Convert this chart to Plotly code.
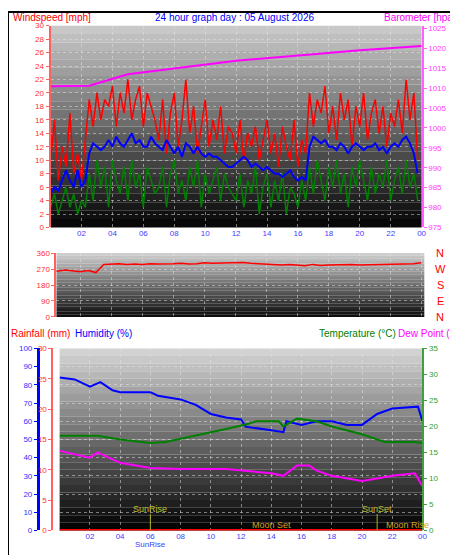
import plotly.graph_objects as go

# ---------------- data ----------------
wind_step_h = 0.25
gust = [10,16,7,12,9,17,8,11,7,13,
        19,15,20,16,19,18,21,15,20,17,22,16,19,21,15,20,18,16,
        13,19,11,17,20,12,16,22,14,18,11,15,19,12,16,13,18,11,15,14,
        11,16,10,14,12,15,10,13,16,11,14,9,15,12,10,16,9,13,11,
        20,15,19,17,21,14,18,13,20,16,19,12,18,15,20,13,17,19,14,18,12,17,15,19,14,22,16,20,10]
avg_wind = [5,6,5.5,7,8.5,7,6,8.5,6,7,
            11,12.5,12,11.5,12,13,12,13.5,12.5,12,13,14,12.5,13,12,12,13.5,12.5,
            12,11.5,13,12,11,12,10.5,12.5,12,11,12,11,10.5,11,10.5,10.5,10,9.5,9,9,
            9.5,10,10.5,10,9,9.5,9,8.5,9,8.5,8,8,7.5,8,8.5,7.5,7,7.5,7,
            12,13.5,13,12.5,13,12,12,11.5,12.5,12,11,12,12.5,12,11.5,12,12,12.5,11.5,12,11,12,12.5,12,13,13.5,12.5,11,8]
speed = [3,5,2,4,6,3,5,2,4,3,
         8,4,10,6,9,3,10,7,5,9,4,10,6,8,3,9,7,5,
         6,9,3,8,10,5,7,4,9,6,10,3,8,5,7,9,4,8,6,5,
         4,8,3,7,5,9,2,6,8,3,7,4,8,2,6,5,3,7,4,
         9,5,10,7,4,9,6,10,5,8,3,9,6,10,7,4,9,5,8,6,10,4,7,9,5,10,6,8,4]
baro_t = [0, 2.5, 5, 8, 12, 17, 20, 24]
baro = [1010.5, 1010.6, 1013.5, 1015, 1016.9, 1018.5, 1019.5, 1020.6]

dir_step_h = 0.5
wind_dir = [262,258,265,260,255,262,250,295,298,300,296,298,295,300,298,297,300,302,298,300,
            305,302,303,305,308,306,302,300,296,295,293,295,292,288,296,290,292,294,296,295,
            293,294,292,296,294,297,295,300,305]

hum_t = [0,1,2,2.7,3.5,4,6,6.5,8,9,10,11,12,12.3,14,14.8,15,16,17,18,19,20,21,22,23.7,24]
humidity = [84,83,79,81.5,77,76,76,74,72,69,64,62,61,57,55,54,60,58,60,60,58,58,64,67,68,60]
temp_t = [0,2.5,4,6,7,9.5,11,12.5,13,14.5,14.8,15.7,17,18,20,21.5,23.5,24]
temperature = [18.2,18.2,17.5,16.8,17,18.5,19.5,20.5,21,21,20,21.5,21,20,18.5,17,17,16.8]
dew_t = [0,2,2.5,4,6,8,11,12,14,14.8,15.7,16.5,17,18,20,21,22,23.5,24]
dew_point = [15.3,14,15,13,12,11.8,11.8,11.5,11,10.5,12.5,12.5,11.5,10.5,9.5,10,10.5,11,8.5]
rain_t = [0, 24]
rainfall = [0, 0]

hour_ticks = [2,4,6,8,10,12,14,16,18,20,22,24]
hour_labels = ["02","04","06","08","10","12","14","16","18","20","22","00"]

wt = [i * wind_step_h for i in range(len(gust))]
dt = [i * dir_step_h for i in range(len(wind_dir))]

FONT = "Liberation Sans"
fig = go.Figure()

fig.add_trace(go.Scatter(x=wt, y=gust, mode="lines", line=dict(color="#ff0000", width=1.5), xaxis="x", yaxis="y"))
fig.add_trace(go.Scatter(x=wt, y=speed, mode="lines", line=dict(color="#008000", width=1.5), xaxis="x", yaxis="y"))
fig.add_trace(go.Scatter(x=wt, y=avg_wind, mode="lines", line=dict(color="#0000ff", width=2), xaxis="x", yaxis="y"))
fig.add_trace(go.Scatter(x=baro_t, y=baro, mode="lines", line=dict(color="#ff00ff", width=2), xaxis="x", yaxis="y2"))
fig.add_trace(go.Scatter(x=dt, y=wind_dir, mode="lines", line=dict(color="#ff0000", width=1.5), xaxis="x2", yaxis="y3"))
fig.add_trace(go.Scatter(x=rain_t, y=rainfall, mode="lines", line=dict(color="#ff0000", width=3), xaxis="x3", yaxis="y5"))
fig.add_trace(go.Scatter(x=hum_t, y=humidity, mode="lines", line=dict(color="#0000ff", width=2), xaxis="x3", yaxis="y4"))
fig.add_trace(go.Scatter(x=temp_t, y=temperature, mode="lines", line=dict(color="#008000", width=2), xaxis="x3", yaxis="y6"))
fig.add_trace(go.Scatter(x=dew_t, y=dew_point, mode="lines", line=dict(color="#ff00ff", width=2), xaxis="x3", yaxis="y6"))

grid = dict(showgrid=True, gridcolor="rgba(230,230,230,0.5)", griddash="dot", gridwidth=1, zeroline=False)
tickf = dict(family=FONT, size=8)

fig.update_layout(
    width=458, height=555, margin=dict(l=0, r=0, t=0, b=0),
    paper_bgcolor="white", plot_bgcolor="rgba(0,0,0,0)", showlegend=False,
    xaxis=dict(domain=[0.094, 0.913], range=[0, 24], tickvals=hour_ticks, ticktext=hour_labels,
               tickfont=dict(tickf, color="#4040ff"), anchor="y", ticks="", **grid),
    yaxis=dict(domain=[0.6054, 0.975], range=[0, 30], dtick=2, tickfont=dict(tickf, color="#ff3030"),
               showline=True, linecolor="#ff6060", linewidth=2, ticks="outside", ticklen=3, tickcolor="#ff6060", **grid),
    yaxis2=dict(overlaying="y", side="right", range=[975, 1025.7], dtick=5, tickfont=dict(tickf, color="#ff40ff"),
                showline=True, linecolor="#ff60ff", linewidth=2, ticks="outside", ticklen=3, tickcolor="#ff60ff",
                showgrid=False, zeroline=False, anchor="x"),
    xaxis2=dict(domain=[0.107, 0.919], range=[0.45, 24.2], tickvals=hour_ticks, showticklabels=False, anchor="y3", **grid),
    yaxis3=dict(domain=[0.4414, 0.5586], range=[0, 360], tickvals=[0, 90, 180, 270, 360],
                tickfont=dict(tickf, color="#ff3030"), showline=True, linecolor="#ff6060", linewidth=2,
                ticks="outside", ticklen=3, tickcolor="#ff6060", anchor="x2", **grid),
    xaxis3=dict(domain=[0.114, 0.915], range=[0, 24], tickvals=hour_ticks, ticktext=hour_labels,
                tickfont=dict(tickf, color="#4040ff"), anchor="y5", **grid),
    yaxis5=dict(domain=[0.0505, 0.3838], range=[0, 30], dtick=5, tickfont=dict(tickf, color="#ff3030"),
                showline=True, linecolor="#ff6060", linewidth=2, ticks="outside", ticklen=3, tickcolor="#ff6060",
                anchor="free", position=0.098, showgrid=False, zeroline=False),
    yaxis4=dict(overlaying="y5", range=[0, 100], dtick=10, tickfont=dict(tickf, color="#3030ff"),
                showline=True, linecolor="#0000ff", linewidth=3, ticks="outside", ticklen=3, tickcolor="#0000ff",
                anchor="free", position=0.066, **grid),
    yaxis6=dict(overlaying="y5", side="right", range=[0, 35], dtick=5, tickfont=dict(tickf, color="#30a030"),
                showline=True, linecolor="#40a040", linewidth=2, ticks="outside", ticklen=3, tickcolor="#40a040",
                anchor="x3", showgrid=False, zeroline=False),
)

shapes = []
def bands(xref, yref, top, bottom, n=24):
    for i in range(n):
        f = i / (n - 1)
        c = int(top + (bottom - top) * f)
        shapes.append(dict(type="rect", xref=xref + " domain", yref=yref + " domain",
                           x0=0, x1=1, y0=1 - (i + 1) / n, y1=1 - i / n,
                           fillcolor=f"rgb({c},{c},{c})", line=dict(width=0), layer="below"))
bands("x", "y", 200, 8)
bands("x2", "y3", 205, 15)
bands("x3", "y5", 210, 5)
shapes.append(dict(type="rect", xref="paper", yref="paper", x0=0, x1=1, y0=0, y1=1,
                   line=dict(color="black", width=2), fillcolor="rgba(0,0,0,0)"))
for h in [6.0, 21.0]:
    shapes.append(dict(type="line", xref="x3", yref="y4", x0=h, x1=h, y0=0, y1=9,
                       line=dict(color="#b0b020", width=1)))
fig.update_layout(shapes=shapes)

ann = []
def txt(x, y, s, color, anchor="left", size=11, xref="paper", yref="paper"):
    ann.append(dict(x=x, y=y, xref=xref, yref=yref, text=s, showarrow=False, xanchor=anchor,
                    yanchor="middle", font=dict(family=FONT, size=size, color=color)))
txt(3/458, 1 - 6/555, "Windspeed [mph]", "#ff0000", size=10)
txt(0.5, 1 - 6/555, "24 hour graph day : 05 August 2026", "#0000ff", "center", size=10)
txt(455/458, 1 - 6/555, "Barometer [hpa]", "#ff00ff", "right", size=10)
for lab, yv in zip(["N", "W", "S", "E", "N"], [360, 270, 180, 90, 0]):
    txt(437/458, yv, lab, "#ff0000", "center", 11, yref="y3")
txt(1/458, 1 - 327/555, "Rainfall (mm)", "#ff0000", size=10)
txt(66/458, 1 - 327/555, "Humidity (%)", "#0000ff", size=10)
txt(312/458, 1 - 327/555, "Temperature (°C)", "#008000", size=10)
txt(392/458, 1 - 327/555, "Dew Point (°C", "#ff00ff", size=10)
txt(6.0, 12, "SunRise", "#c0c030", "center", 9, xref="x3", yref="y4")
txt(21.0, 12, "SunSet", "#c0c030", "center", 9, xref="x3", yref="y4")
txt(14.0, 3, "Moon Set", "#d0a020", "center", 9, xref="x3", yref="y4")
txt(23.0, 3, "Moon Rise", "#d0a020", "center", 9, xref="x3", yref="y4")
txt(6.0, 1 - 541/555, "SunRise", "#4040ff", "center", 8, xref="x3")
fig.update_layout(annotations=ann)

fig.write_html("out.html")
